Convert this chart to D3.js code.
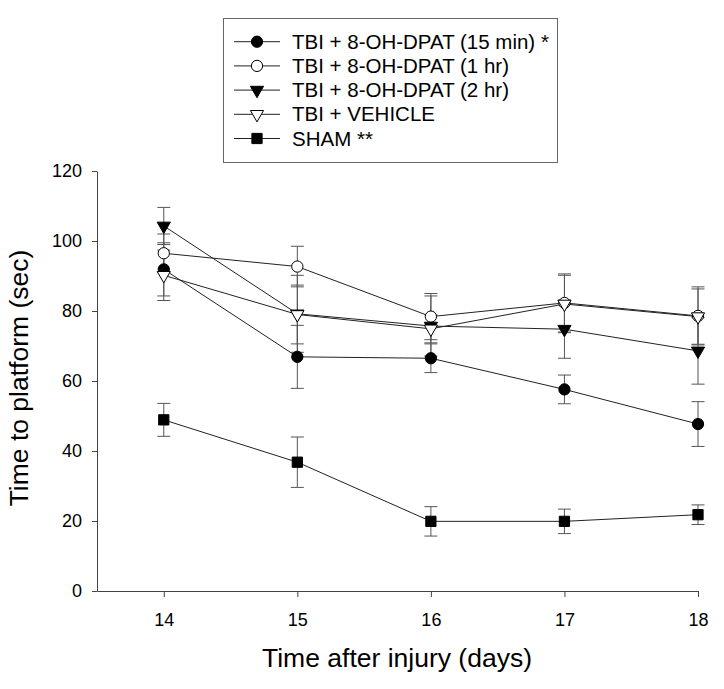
<!DOCTYPE html>
<html><head><meta charset="utf-8">
<script src="https://cdn.jsdelivr.net/npm/d3@7"></script>
<style>body{margin:0;background:#fff}svg{display:block}text{font-family:"Liberation Sans",Arial,sans-serif;fill:#000}</style>
</head><body><svg id="c" width="724" height="689"></svg>
<script>
const days = [14, 15, 16, 17, 18];
const yTicks = [0, 20, 40, 60, 80, 100, 120];
const seriesNames = ["TBI + 8-OH-DPAT (15 min) *", "TBI + 8-OH-DPAT (1 hr)", "TBI + 8-OH-DPAT (2 hr)", "TBI + VEHICLE", "SHAM **"];
const v15min = [91.9, 66.9, 66.5, 57.6, 47.7];
const e15min = [7.6, 9.0, 4.1, 4.1, 6.4];
const v1hr = [96.5, 92.7, 78.4, 82.3, 78.6];
const e1hr = [5.5, 5.8, 6.6, 8.3, 8.3];
const v2hr = [104.3, 79.2, 75.7, 74.8, 68.6];
const e2hr = [5.3, 11.0, 8.6, 8.3, 9.5];
const vVeh = [90.2, 79.0, 74.9, 82.0, 78.4];
const eVeh = [7.2, 8.4, 4.0, 8.2, 7.9];
const vSham = [48.9, 36.8, 19.9, 19.9, 21.8];
const eSham = [4.7, 7.2, 4.2, 3.5, 2.8];
const markers = ["circleFill", "circleOpen", "triDownFill", "triDownOpen", "squareFill"];

const seriesVals = [v15min, v1hr, v2hr, vVeh, vSham];
const seriesErrs = [e15min, e1hr, e2hr, eVeh, eSham];
const series = seriesNames.map((n, i) => ({name: n, marker: markers[i],
  pts: days.map((d, j) => ({d, v: seriesVals[i][j], e: seriesErrs[i][j]}))}));

const svg = d3.select("#c");
const x = d3.scaleLinear().domain([13.5, 18]).range([97, 698]);
const y = d3.scaleLinear().domain([0, 120]).range([591, 171]);

// axes
const gx = svg.append("g").attr("transform", "translate(0,591)")
  .call(d3.axisBottom(x).tickValues(days).tickFormat(d3.format("d")).tickSize(6).tickSizeOuter(0).tickPadding(16));
const gy = svg.append("g").attr("transform", "translate(97,0)")
  .call(d3.axisLeft(y).tickValues(yTicks).tickFormat(d3.format("d")).tickSize(5).tickSizeOuter(0).tickPadding(10));
[gx, gy].forEach(g => {
  g.selectAll("path,line").attr("stroke", "#444").attr("stroke-width", 1);
  g.selectAll("text").attr("font-size", 18).attr("font-family", "Liberation Sans, Arial, sans-serif").attr("fill", "#000");
});

svg.append("text").attr("x", 397).attr("y", 667).attr("text-anchor", "middle").attr("font-size", 26.5).text("Time after injury (days)");
svg.append("text").attr("transform", "translate(28,378) rotate(-90)").attr("text-anchor", "middle").attr("font-size", 26.5).text("Time to platform (sec)");

function drawMarker(g, type, cx, cy) {
  const m = {circleFill: [d3.symbolCircle, 100, true], circleOpen: [d3.symbolCircle, 100, false],
    triDownFill: [d3.symbolTriangle, 75, true], triDownOpen: [d3.symbolTriangle, 75, false],
    squareFill: [d3.symbolSquare, 105, true]}[type];
  const rot = type.startsWith("tri") ? " rotate(180)" : "";
  g.append("path").attr("d", d3.symbol().type(m[0]).size(m[1])())
    .attr("transform", `translate(${cx},${cy})${rot}`)
    .attr("fill", m[2] ? "#000" : "#fff").attr("stroke", "#000").attr("stroke-width", 1);
}

// error bars
const eg = svg.append("g");
series.forEach(s => s.pts.forEach(p => {
  const cx = x(p.d);
  eg.append("line").attr("x1", cx).attr("x2", cx).attr("y1", y(p.v - p.e)).attr("y2", y(p.v + p.e)).attr("stroke", "#555");
  [p.v - p.e, p.v + p.e].forEach(v => eg.append("line").attr("x1", cx - 6.5).attr("x2", cx + 6.5).attr("y1", y(v)).attr("y2", y(v)).attr("stroke", "#555"));
}));
// lines
const line = d3.line().x(p => x(p.d)).y(p => y(p.v));
series.forEach(s => svg.append("path").attr("d", line(s.pts)).attr("fill", "none").attr("stroke", "#222").attr("stroke-width", 1));
series.forEach(s => { const g = svg.append("g"); s.pts.forEach(p => drawMarker(g, s.marker, x(p.d), y(p.v))); });

// legend
const lg = svg.append("g");
lg.append("rect").attr("x", 223.5).attr("y", 18.5).attr("width", 334).attr("height", 144).attr("fill", "#fff").attr("stroke", "#666");
series.forEach((s, i) => {
  const cy = 41.7 + i * 24.2;
  lg.append("line").attr("x1", 234).attr("x2", 280).attr("y1", cy).attr("y2", cy).attr("stroke", "#222");
  drawMarker(lg, s.marker, 257, cy);
  lg.append("text").attr("x", 292).attr("y", cy + 7).attr("font-size", 20.5).text(s.name);
});
</script></body></html>
